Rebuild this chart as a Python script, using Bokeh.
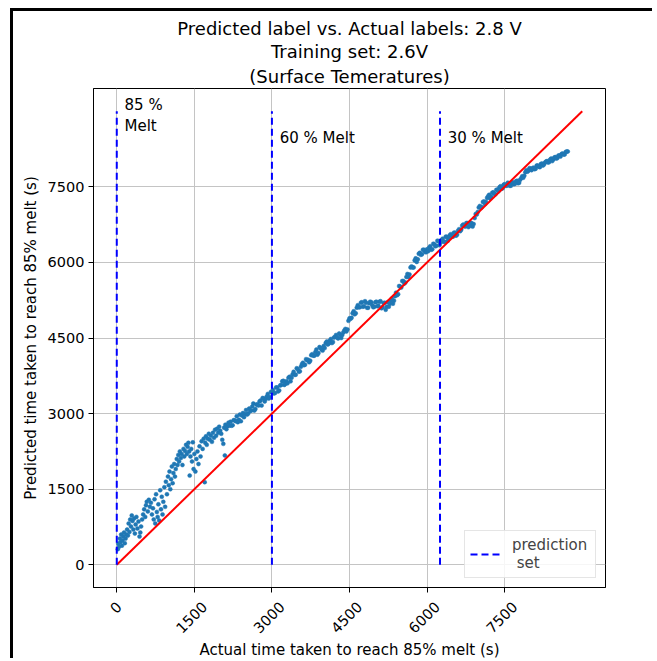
from bokeh.plotting import figure
from bokeh.models import Range1d, FixedTicker, Legend, LegendItem, Title, LinearAxis
from bokeh.embed import file_html
from bokeh.resources import INLINE
from bokeh.core.properties import value

# ---------------- texts ----------------
title_lines = ["Predicted label vs. Actual labels: 2.8 V", "Training set: 2.6V", "(Surface Temeratures)"]
x_label = "Actual time taken to reach 85% melt (s)"
y_label = "Predicted time taken to reach 85% melt (s)"
tick_values = [0, 1500, 3000, 4500, 6000, 7500]
tick_labels = ["0", "1500", "3000", "4500", "6000", "7500"]
melt_positions = [0, 3000, 6250]
melt_labels = ["85 %\nMelt", "60 % Melt", "30 % Melt"]
ideal_x = [0, 9000]
ideal_y = [0, 9000]
legend_label = "prediction\n set"

# ---------------- data ----------------
early_actual = [20, 30, 45, 60, 70, 85, 100, 110, 125, 140, 155, 170, 185, 200, 215, 230, 245, 260, 275, 290,
                305, 320, 335, 350, 365, 380, 400, 420, 440, 455, 470, 490, 510, 530, 550, 565, 580, 600, 620, 640,
                660, 680, 700, 715, 730, 745, 760, 775, 790, 805, 820, 840, 855, 870, 885, 900, 920, 935, 950, 970, 990]
early_pred = [310, 420, 360, 520, 450, 600, 380, 480, 560, 640, 430, 520, 600, 700, 580, 820, 650, 900, 760, 980,
              870, 700, 920, 620, 800, 950, 720, 860, 560, 640, 760, 900, 1000, 1100, 950, 1180, 1250, 1060, 1290, 1150,
              1230, 1000, 1120, 900, 1300, 820, 1400, 1050, 950, 1200, 880, 1480, 1100, 1350, 1000, 1250, 1540, 1150, 1650, 1400, 1750]

mid_actual = [1005, 1020, 1035, 1050, 1065, 1080, 1095, 1110, 1125, 1140, 1160, 1175, 1190, 1205, 1220, 1240, 1255, 1270, 1290, 1305,
              1320, 1340, 1355, 1370, 1385, 1400, 1410, 1425, 1440, 1455, 1470, 1485, 1500, 1520, 1540, 1560, 1580, 1600, 1620, 1640,
              1660, 1680, 1700, 1710, 1725, 1740, 1760, 1780, 1800, 1820, 1840, 1860, 1880, 1900, 1920, 1940, 1960, 1980, 2000, 2020,
              2040, 2060, 2075, 2090, 2100, 2120, 2140, 2160, 2180]
mid_pred = [1580, 1850, 1500, 1700, 1950, 1620, 1820, 2000, 1750, 1900, 2100, 1980, 2180, 2050, 2250, 2120, 2200, 1980, 2300, 2150,
            2260, 2380, 2200, 2340, 2420, 2250, 1770, 2150, 2300, 2050, 2430, 1900, 2200, 1850, 2100, 2250, 2000, 2350, 2150, 2450,
            2300, 2500, 1640, 2420, 2550, 2380, 2500, 2600, 2480, 2560, 2440, 2620, 2520, 2680, 2560, 2700, 2620, 2740, 2660, 2600,
            2480, 2400, 2720, 2170, 2780, 2690, 2750, 2820, 2760]

band1_actual = [2200, 2240, 2280, 2320, 2360, 2400, 2440, 2480, 2520, 2560, 2600, 2640, 2680, 2720, 2760, 2800, 2840, 2880, 2920, 2960, 3000]
band1_pred = [2840, 2770, 2870, 2950, 2880, 2850, 3010, 2990, 2980, 3100, 3060, 3200, 3090, 3180, 3240, 3160, 3300, 3290, 3390, 3330, 3420]
band1b_actual = [2220, 2260, 2300, 2340, 2380, 2420, 2460, 2500, 2540, 2580, 2620, 2660, 2700, 2740, 2780, 2820, 2860, 2900, 2940, 2980]
band1b_pred = [2760, 2870, 2850, 2830, 2980, 2960, 2930, 3070, 3000, 3050, 3140, 3060, 3180, 3160, 3260, 3310, 3240, 3340, 3300, 3430]

band2_actual = [3040, 3080, 3120, 3160, 3200, 3240, 3280, 3320, 3360, 3400, 3440, 3480, 3520, 3560, 3600, 3640, 3680, 3720, 3760, 3800,
                3840, 3880, 3920, 3960, 4000]
band2_pred = [3400, 3520, 3440, 3560, 3640, 3570, 3640, 3710, 3640, 3780, 3770, 3900, 3830, 3930, 4010, 3970, 4060, 4020, 4160, 4150,
              4220, 4170, 4320, 4270, 4340]
band2b_actual = [3020, 3060, 3100, 3140, 3180, 3220, 3260, 3300, 3340, 3380, 3420, 3460, 3500, 3540, 3580, 3620, 3660, 3700, 3740, 3780,
                 3820, 3860, 3900, 3940, 3980]
band2b_pred = [3470, 3410, 3520, 3460, 3570, 3650, 3590, 3600, 3730, 3710, 3830, 3770, 3880, 3840, 3980, 3960, 4080, 4070, 4050, 4180,
               4150, 4270, 4200, 4300, 4250]

band3_actual = [4040, 4080, 4120, 4160, 4200, 4240, 4280, 4320, 4360, 4400, 4440, 4480, 4520, 4560, 4600, 4640, 4680, 4720, 4760, 4800,
                4840, 4880, 4920, 4960, 5000]
band3_pred = [4400, 4370, 4450, 4400, 4510, 4560, 4490, 4560, 4560, 4650, 4630, 4840, 4880, 4990, 4970, 5100, 5110, 5200, 5120, 5230,
              5100, 5190, 5210, 5110, 5210]
band3b_actual = [4020, 4060, 4100, 4140, 4180, 4220, 4260, 4300, 4340, 4380, 4420, 4460, 4500, 4540, 4580, 4620, 4660, 4700, 4740, 4780,
                 4820, 4860, 4900, 4940, 4980]
band3b_pred = [4300, 4430, 4390, 4480, 4420, 4520, 4510, 4590, 4500, 4610, 4680, 4670, 4890, 4900, 5030, 4990, 5150, 5110, 5210, 5130,
               5200, 5100, 5220, 5150, 5120]

band4_actual = [5040, 5080, 5120, 5160, 5200, 5240, 5280, 5320, 5360, 5400, 5440, 5480, 5520, 5560, 5600, 5640, 5680, 5720, 5760, 5800,
                5840, 5880, 5920, 5960, 6000]
band4_pred = [5130, 5220, 5090, 5190, 5060, 5210, 5180, 5280, 5240, 5400, 5370, 5520, 5630, 5580, 5710, 5710, 5900, 5900, 6040, 6010,
              6170, 6150, 6250, 6210, 6260]
band4b_actual = [5020, 5060, 5100, 5140, 5180, 5220, 5260, 5300, 5340, 5380, 5420, 5460, 5500, 5540, 5580, 5620, 5660, 5700, 5740, 5780,
                 5820, 5860, 5900, 5940, 5980]
band4b_pred = [5220, 5140, 5230, 5110, 5200, 5120, 5120, 5240, 5180, 5330, 5350, 5530, 5500, 5630, 5600, 5770, 5760, 5920, 5900, 6080,
               6060, 6190, 6160, 6250, 6200]

band5_actual = [6040, 6080, 6120, 6160, 6200, 6240, 6280, 6320, 6360, 6400, 6440, 6480, 6520, 6560, 6600, 6640, 6680, 6720, 6760, 6800,
                6840, 6880, 6920, 6960, 7000]
band5_pred = [6290, 6250, 6370, 6320, 6430, 6340, 6440, 6410, 6510, 6430, 6540, 6520, 6590, 6530, 6630, 6620, 6730, 6720, 6780, 6700,
              6780, 6710, 6880, 6950, 7090]
band5b_actual = [6020, 6060, 6100, 6140, 6180, 6220, 6260, 6300, 6340, 6380, 6420, 6460, 6500, 6540, 6580, 6620, 6660, 6700, 6740, 6780,
                 6820, 6860, 6900, 6940, 6980]
band5b_pred = [6220, 6320, 6260, 6360, 6330, 6420, 6390, 6470, 6410, 6510, 6480, 6560, 6510, 6590, 6550, 6660, 6650, 6750, 6710, 6780,
               6720, 6780, 6760, 6960, 7000]

band6_actual = [7040, 7080, 7120, 7160, 7200, 7240, 7280, 7320, 7360, 7400, 7440, 7480, 7520, 7560, 7600, 7640, 7680, 7720, 7760, 7800,
                7840, 7880, 7920, 7960, 8000]
band6_pred = [7080, 7200, 7160, 7280, 7340, 7300, 7390, 7350, 7440, 7490, 7460, 7540, 7520, 7580, 7520, 7580, 7550, 7610, 7570, 7640,
              7710, 7720, 7830, 7820, 7860]
band6b_actual = [7020, 7060, 7100, 7140, 7180, 7220, 7260, 7300, 7340, 7380, 7420, 7460, 7500, 7540, 7580, 7620, 7660, 7700, 7740, 7780,
                 7820, 7860, 7900, 7940, 7980]
band6b_pred = [7120, 7100, 7210, 7200, 7310, 7270, 7380, 7360, 7440, 7410, 7510, 7470, 7550, 7520, 7570, 7520, 7590, 7560, 7620, 7580,
               7670, 7680, 7790, 7800, 7870]

band7_actual = [8040, 8080, 8120, 8160, 8200, 8240, 8280, 8320, 8360, 8400, 8440, 8480, 8520, 8560, 8600, 8640, 8680, 8720]
band7_pred = [7870, 7850, 7920, 7900, 7950, 7920, 7980, 8010, 7990, 8060, 8040, 8090, 8070, 8120, 8150, 8140, 8190, 8200]
band7b_actual = [8020, 8060, 8100, 8140, 8180, 8220, 8260, 8300, 8340, 8380, 8420, 8460, 8500, 8540, 8580, 8620, 8660, 8700]
band7b_pred = [7830, 7880, 7860, 7920, 7890, 7960, 7940, 8000, 7980, 8040, 8010, 8080, 8060, 8120, 8100, 8160, 8140, 8200]

actual = (early_actual + mid_actual + band1_actual + band1b_actual + band2_actual + band2b_actual
          + band3_actual + band3b_actual + band4_actual + band4b_actual + band5_actual + band5b_actual
          + band6_actual + band6b_actual + band7_actual + band7b_actual)
predicted = (early_pred + mid_pred + band1_pred + band1b_pred + band2_pred + band2b_pred
             + band3_pred + band3b_pred + band4_pred + band4b_pred + band5_pred + band5b_pred
             + band6_pred + band6b_pred + band7_pred + band7b_pred)

FONT = "DejaVu Sans"

p = figure(width=642, height=650, output_backend="svg", toolbar_location=None,
           x_range=Range1d(-450, 9450), y_range=Range1d(-450, 9450),
           min_border_left=80, min_border_right=50, min_border_top=77, min_border_bottom=73)
p.styles = {"position": "absolute", "left": "10px", "top": "8px",
            "border-top": "3px solid black", "border-left": "3px solid black"}

# three centred title lines: p.title is outermost, p.above items stack outward from the frame
p.title.text = title_lines[0]
titles = [Title(text=title_lines[2]), Title(text=title_lines[1]), p.title]
standoffs = [4, 0, 0]
for t, so in zip(titles, standoffs):
    t.align = "center"
    t.text_font = FONT
    t.text_font_size = "18px"
    t.text_font_style = "normal"
    t.text_color = "black"
    t.text_line_height = 1.0
    t.standoff = so
p.add_layout(titles[0], "above")
p.add_layout(titles[1], "above")

for ax in (p.xaxis[0], p.yaxis[0]):
    ax.ticker = FixedTicker(ticks=tick_values)
    ax.major_label_text_font = FONT
    ax.major_label_text_font_size = "14.5px"
    ax.major_label_text_color = "black"
    ax.axis_label_text_font = FONT
    ax.axis_label_text_font_size = "15px"
    ax.axis_label_text_font_style = "normal"
    ax.axis_label_text_color = "black"
    ax.axis_line_color = "black"
    ax.major_tick_line_color = "black"
    ax.major_tick_out = 5
    ax.major_tick_in = 0
    ax.minor_tick_line_color = None
    ax.major_label_standoff = 4

p.yaxis.axis_label = y_label
# main x axis: tick marks only (its labels are not drawn)
p.xaxis[0].major_label_text_alpha = 0
p.xaxis[0].major_label_standoff = 0

# second x axis carries the rotated labels, shifted so each label is centred under its tick
label_shift = {tl: 50 * len(tl) for tl in tick_labels}
shifted = [tv + label_shift[tl] for tv, tl in zip(tick_values, tick_labels)]
lab_axis = LinearAxis(ticker=FixedTicker(ticks=shifted),
                      major_label_overrides={s: tl for s, tl in zip(shifted, tick_labels)},
                      major_label_orientation=0.785398,
                      axis_line_color=None, major_tick_line_color=None, minor_tick_line_color=None,
                      major_tick_out=0, major_tick_in=0, major_label_standoff=12,
                      major_label_text_font=FONT, major_label_text_font_size="14.5px",
                      major_label_text_color="black",
                      axis_label=x_label, axis_label_text_font=FONT, axis_label_text_font_size="15px",
                      axis_label_text_font_style="normal", axis_label_text_color="black",
                      axis_label_standoff=0)
p.add_layout(lab_axis, "below")

p.xgrid.ticker = FixedTicker(ticks=tick_values)
p.ygrid.ticker = FixedTicker(ticks=tick_values)
p.grid.grid_line_color = "#c4c4c4"
p.grid.grid_line_width = 1
p.outline_line_color = "black"
p.outline_line_width = 1

p.scatter(actual, predicted, size=4, color="#1f77b4", line_width=0.5)
p.line(ideal_x, ideal_y, line_color="red", line_width=2)

vl = p.segment(x0=melt_positions, y0=[ideal_y[0]] * 3, x1=melt_positions, y1=[ideal_y[1]] * 3,
               line_color="blue", line_width=2, line_dash="7 4")

p.text(x=[m + 150 for m in melt_positions], y=[9310, 8650, 8650], text=melt_labels,
       text_font=value(FONT), text_font_size="15px", text_align="left", text_baseline="top",
       text_color="black", text_line_height=1.2)

legend = Legend(items=[LegendItem(label=legend_label, renderers=[vl])], location="bottom_right")
legend.label_text_font = FONT
legend.label_text_font_size = "15px"
legend.label_text_line_height = 0.95
legend.glyph_width = 30
legend.label_standoff = 12
legend.label_width = 78
legend.padding = 5
legend.margin = 9
legend.border_line_color = "#cccccc"
legend.background_fill_alpha = 0.85
p.add_layout(legend)

open("out.html", "w").write(file_html(p, INLINE))
